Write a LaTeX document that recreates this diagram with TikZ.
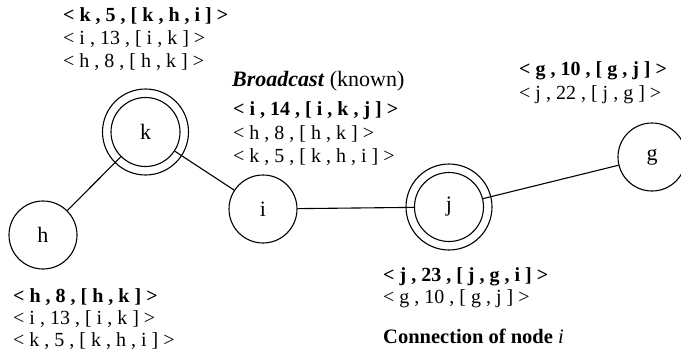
\documentclass[tikz,border=0pt]{standalone}
\usepackage{fontspec}
\setmainfont{Liberation Serif}
\begin{document}
\begin{tikzpicture}[x=1pt,y=-1pt,
  nd/.style={circle,draw,line width=1.1pt,minimum size=68pt,inner sep=0pt,font=\fontsize{22}{25}\selectfont},
  dnd/.style={nd,minimum size=69pt},
  ring/.style={line width=1.1pt},
  txt/.style={anchor=base west,inner sep=0pt,font=\fontsize{20}{23}\selectfont},
  btxt/.style={txt,font=\fontsize{20}{23}\selectfont\bfseries},
  link/.style={line width=1.1pt}]
\useasboundingbox (0,0) rectangle (681,356);
% nodes
\node[nd] (h) at (43,235) {h};
\node[dnd] (k) at (145.5,132) {k};
\draw[ring] (k.center) circle[radius=43pt];
\node[nd] (i) at (263,209) {i};
\node[dnd] (j) at (449,207) {j};
\draw[ring] (j.center) circle[radius=43pt];
\node[nd] (g) at (652,157) {g};
% connectors
\draw[link] (h) -- (k);
\draw[link] (k) -- (i);
\draw[link] (i) -- (j);
\draw[link] (j) -- (g);
% k table
\node[btxt] (k1) at (63,21) {< k , 5 , [ k , h , i ] >};
\node[txt] (k2) at (63,44) {< i , 13 , [ i , k ] >};
\node[txt] (k3) at (63,67) {< h , 8 , [ h , k ] >};
% broadcast
\node[txt,font=\fontsize{22}{25}\selectfont] (bc) at (232,86) {\textbf{\textit{Broadcast}} (known)};
% i table
\node[btxt] (i1) at (233,115) {< i , 14 , [ i , k , j ] >};
\node[txt] (i2) at (233,139) {< h , 8 , [ h , k ] >};
\node[txt] (i3) at (233,162) {< k , 5 , [ k , h , i ] >};
% g table
\node[btxt] (g1) at (519,75) {< g , 10 , [ g , j ] >};
\node[txt] (g2) at (519,99) {< j , 22 , [ j , g ] >};
% h table
\node[btxt] (h1) at (13,302) {< h , 8 , [ h , k ] >};
\node[txt] (h2) at (13,324) {< i , 13 , [ i , k ] >};
\node[txt] (h3) at (13,346) {< k , 5 , [ k , h , i ] >};
% j table
\node[btxt] (j1) at (383,281) {< j , 23 , [ j , g , i ] >};
\node[txt] (j2) at (383,303) {< g , 10 , [ g , j ] >};
% caption
\node[txt,font=\fontsize{20.5}{24}\selectfont] (conn) at (383,343) {\textbf{Connection of node} \textit{i}};
\end{tikzpicture}
\end{document}
